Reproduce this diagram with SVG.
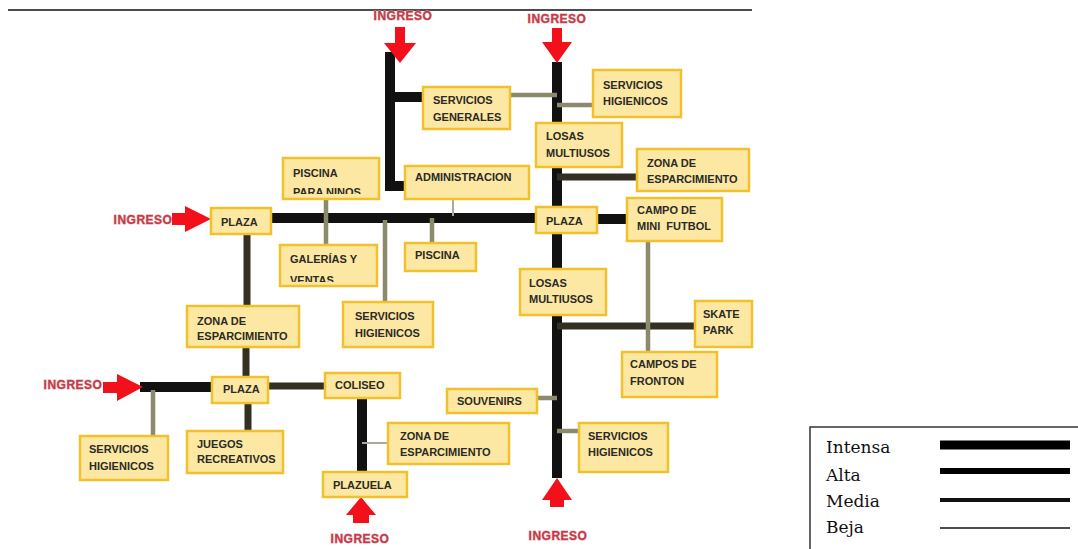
<svg xmlns="http://www.w3.org/2000/svg" width="1078" height="549" viewBox="0 0 1078 549">
<style>
.box{fill:#fce8a2;stroke:#f0c12c;stroke-width:2.5}
.t{font-family:"Liberation Sans",Arial,sans-serif;font-weight:bold;font-size:11px;fill:#2b2a26}
.ing{font-family:"Liberation Sans",Arial,sans-serif;font-weight:bold;font-size:12px;letter-spacing:0.5px;fill:#c23b46;stroke:#eaa0a8;stroke-width:0.8;paint-order:stroke;text-anchor:middle}
.arrow{fill:#f2111a}
.int{stroke:#111;stroke-width:10;fill:none}
.alta{stroke:#332f22;stroke-width:7;fill:none}
.med{stroke:#8b8a6c;stroke-width:4.5;fill:none}
.baja{stroke:#a9aa9a;stroke-width:2;fill:none}
.lg{font-family:"DejaVu Serif","Liberation Serif",serif;font-size:17px;fill:#111}
</style>
<defs>
<clipPath id="c1"><rect x="284" y="159" width="94" height="35"/></clipPath>
<clipPath id="c2"><rect x="281" y="246" width="95" height="36"/></clipPath>
</defs>
<rect x="0" y="0" width="1078" height="549" fill="#fff"/>
<line x1="8" y1="10" x2="752" y2="10" stroke="#111" stroke-width="1.5"/>

<g id="connectors">
<path class="int" d="M390 52 V186 H405"/>
<line class="int" x1="390" y1="97" x2="423" y2="97"/>
<line class="int" x1="557" y1="62" x2="557" y2="478"/>
<line class="int" x1="271" y1="218" x2="536" y2="218" stroke-width="9"/>
<line class="int" x1="597" y1="219" x2="627" y2="219" stroke-width="9"/>
<line class="int" x1="140" y1="387" x2="212" y2="387"/>
<line class="int" x1="362" y1="398" x2="362" y2="472"/>
<line class="alta" x1="557" y1="177" x2="637" y2="177"/>
<line class="alta" x1="557" y1="326" x2="695" y2="326"/>
<line class="alta" x1="247" y1="234" x2="247" y2="306"/>
<line class="alta" x1="246" y1="347" x2="246" y2="377"/>
<line class="alta" x1="248" y1="403" x2="248" y2="431"/>
<line class="alta" x1="268" y1="386" x2="325" y2="386"/>
<line class="med" x1="510" y1="95" x2="557" y2="95"/>
<line class="med" x1="557" y1="105" x2="593" y2="105"/>
<line class="med" x1="326" y1="199" x2="326" y2="245"/>
<line class="med" x1="385" y1="220" x2="385" y2="302"/>
<line class="med" x1="432" y1="218" x2="432" y2="243"/>
<line class="med" x1="648" y1="241" x2="648" y2="352"/>
<line class="med" x1="153" y1="390" x2="153" y2="436"/>
<line class="med" x1="537" y1="398" x2="557" y2="398"/>
<line class="med" x1="557" y1="431" x2="579" y2="431"/>
<line class="baja" x1="453" y1="199" x2="453" y2="216"/>
<line class="baja" x1="362" y1="443" x2="388" y2="443" stroke="#a3b092" stroke-width="3"/>
</g>

<g id="entrances">
<polygon class="arrow" points="395,27 405,27 405,43 416,43 400,63 384,43 395,43"/>
<text class="ing" x="403" y="20">INGRESO</text>
<polygon class="arrow" points="552,28 562,28 562,42 572,42 557,63 542,42 552,42"/>
<text class="ing" x="557" y="23">INGRESO</text>
<polygon class="arrow" points="172,213 185,213 185,206 211,219 185,232 185,225 172,225"/>
<text class="ing" x="143" y="224">INGRESO</text>
<polygon class="arrow" points="103,382 117,382 117,374 143,387 117,401 117,393 103,393"/>
<text class="ing" x="73" y="389">INGRESO</text>
<polygon class="arrow" points="361,497 376,515 369,515 369,523 353,523 353,515 346,515"/>
<text class="ing" x="360" y="543">INGRESO</text>
<polygon class="arrow" points="557,478 572,500 564,500 564,507 550,507 550,500 542,500"/>
<text class="ing" x="558" y="540">INGRESO</text>
</g>

<g id="n-servicios-generales"><rect class="box" x="423" y="87" width="87" height="42"/><text class="t" x="433" y="104">SERVICIOS</text><text class="t" x="433" y="121">GENERALES</text></g>
<g id="n-servicios-higienicos-1"><rect class="box" x="593" y="70" width="88" height="47"/><text class="t" x="603" y="89">SERVICIOS</text><text class="t" x="603" y="105">HIGIENICOS</text></g>
<g id="n-losas-1"><rect class="box" x="536" y="123" width="86" height="44"/><text class="t" x="546" y="140">LOSAS</text><text class="t" x="546" y="157">MULTIUSOS</text></g>
<g id="n-administracion"><rect class="box" x="405" y="166" width="124" height="33"/><text class="t" x="415" y="181">ADMINISTRACION</text></g>
<g id="n-zona-1"><rect class="box" x="637" y="149" width="112" height="42"/><text class="t" x="647" y="167">ZONA DE</text><text class="t" x="647" y="183">ESPARCIMIENTO</text></g>
<g id="n-plaza-2"><rect class="box" x="536" y="207" width="61" height="26"/><text class="t" x="546" y="225">PLAZA</text></g>
<g id="n-campo-mini-futbol"><rect class="box" x="627" y="198" width="95" height="43"/><text class="t" x="637" y="214">CAMPO DE</text><text class="t" x="637" y="230" xml:space="preserve">MINI  FUTBOL</text></g>
<g id="n-piscina"><rect class="box" x="405" y="243" width="71" height="28"/><text class="t" x="415" y="259">PISCINA</text></g>
<g id="n-piscina-ninos"><rect class="box" x="283" y="158" width="96" height="41"/><g clip-path="url(#c1)"><text class="t" x="293" y="177">PISCINA</text><text class="t" x="293" y="196">PARA NINOS</text></g></g>
<g id="n-plaza-1"><rect class="box" x="211" y="208" width="60" height="26"/><text class="t" x="221" y="226">PLAZA</text></g>
<g id="n-galerias"><rect class="box" x="280" y="245" width="97" height="41"/><g clip-path="url(#c2)"><text class="t" x="290" y="263">GALERÍAS Y</text><text class="t" x="290" y="284">VENTAS</text></g></g>
<g id="n-losas-2"><rect class="box" x="520" y="269" width="86" height="46"/><text class="t" x="529" y="287">LOSAS</text><text class="t" x="529" y="303">MULTIUSOS</text></g>
<g id="n-servicios-higienicos-2"><rect class="box" x="343" y="302" width="90" height="45"/><text class="t" x="355" y="320">SERVICIOS</text><text class="t" x="355" y="337">HIGIENICOS</text></g>
<g id="n-zona-2"><rect class="box" x="187" y="306" width="112" height="41"/><text class="t" x="197" y="325">ZONA DE</text><text class="t" x="197" y="340">ESPARCIMIENTO</text></g>
<g id="n-skate-park"><rect class="box" x="695" y="301" width="57" height="46"/><text class="t" x="703" y="318">SKATE</text><text class="t" x="703" y="334">PARK</text></g>
<g id="n-campos-fronton"><rect class="box" x="622" y="352" width="95" height="45"/><text class="t" x="630" y="368">CAMPOS DE</text><text class="t" x="630" y="385">FRONTON</text></g>
<g id="n-plaza-3"><rect class="box" x="212" y="377" width="56" height="26"/><text class="t" x="223" y="393">PLAZA</text></g>
<g id="n-coliseo"><rect class="box" x="325" y="373" width="75" height="25"/><text class="t" x="335" y="389">COLISEO</text></g>
<g id="n-souvenirs"><rect class="box" x="447" y="389" width="90" height="24"/><text class="t" x="457" y="405">SOUVENIRS</text></g>
<g id="n-zona-3"><rect class="box" x="388" y="423" width="121" height="41"/><text class="t" x="400" y="440">ZONA DE</text><text class="t" x="400" y="456">ESPARCIMIENTO</text></g>
<g id="n-plazuela"><rect class="box" x="323" y="472" width="84" height="25"/><text class="t" x="333" y="489">PLAZUELA</text></g>
<g id="n-servicios-higienicos-3"><rect class="box" x="579" y="423" width="89" height="49"/><text class="t" x="588" y="440">SERVICIOS</text><text class="t" x="588" y="456">HIGIENICOS</text></g>
<g id="n-servicios-higienicos-4"><rect class="box" x="80" y="436" width="88" height="44"/><text class="t" x="89" y="453">SERVICIOS</text><text class="t" x="89" y="470">HIGIENICOS</text></g>
<g id="n-juegos"><rect class="box" x="187" y="431" width="96" height="42"/><text class="t" x="197" y="448">JUEGOS</text><text class="t" x="197" y="463">RECREATIVOS</text></g>

<g id="legend">
<rect x="810" y="427" width="280" height="140" fill="#fff" stroke="#333" stroke-width="1.5"/>
<text class="lg" x="826" y="453">Intensa</text>
<text class="lg" x="826" y="481">Alta</text>
<text class="lg" x="826" y="507">Media</text>
<text class="lg" x="826" y="533">Beja</text>
<line x1="940" y1="445" x2="1070" y2="445" stroke="#000" stroke-width="9"/>
<line x1="940" y1="471" x2="1070" y2="471" stroke="#000" stroke-width="6"/>
<line x1="940" y1="500" x2="1070" y2="500" stroke="#111" stroke-width="4"/>
<line x1="940" y1="528" x2="1070" y2="528" stroke="#111" stroke-width="1.3"/>
</g>
</svg>
